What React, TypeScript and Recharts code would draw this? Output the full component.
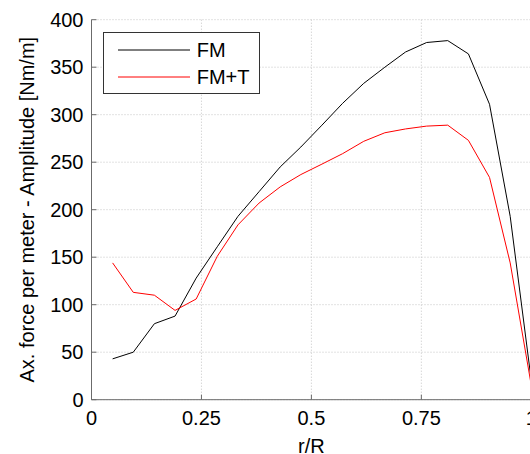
import { LineChart, Line, XAxis, YAxis, CartesianGrid, Legend } from "recharts";

// r/R stations
const R = [
  0.048, 0.095, 0.143, 0.19, 0.238, 0.286, 0.333, 0.381, 0.429, 0.476, 0.524,
  0.571, 0.619, 0.667, 0.714, 0.762, 0.81, 0.857, 0.905, 0.952, 1.0,
];
// axial force amplitude [Nm/m]
const FM = [
  43, 50, 80, 88, 128, 161, 193, 219, 245, 266, 289, 312, 333, 350, 366, 376,
  378, 364, 311, 193, 20,
];
const FM_T = [
  144, 113, 110, 94, 106, 151, 184, 207, 224, 237, 248, 259, 272, 281, 285,
  288, 289, 273, 234, 144, 15,
];

const X_TICKS = [0, 0.25, 0.5, 0.75, 1];
const Y_TICKS = [0, 50, 100, 150, 200, 250, 300, 350, 400];

const data = R.map((r, i) => ({ r, fm: FM[i], fmt: FM_T[i] }));

const FONT = '"Liberation Sans", Arial, Helvetica, sans-serif';
const AXIS = "#6b6b6b";

function LegendBox({ payload }: any) {
  return (
    <div
      style={{
        width: 157,
        height: 62,
        border: "1px solid #333",
        background: "#fff",
        boxSizing: "border-box",
        paddingTop: 4,
      }}
    >
      {(payload || []).map((p: any) => (
        <div
          key={p.value}
          style={{ display: "flex", alignItems: "center", height: 27 }}
        >
          <svg width={86} height={10} style={{ flex: "none" }}>
            <line x1={14} x2={86} y1={5} y2={5} stroke={p.color} strokeWidth={1} />
          </svg>
          <span
            style={{
              marginLeft: 7,
              fontSize: 20,
              color: "#000",
              fontFamily: FONT,
              lineHeight: "20px",
            }}
          >
            {p.value}
          </span>
        </div>
      ))}
    </div>
  );
}

export default function App() {
  // absolute box so the slightly wider chart is cropped at the right like the original
  return (
    <div
      style={{
        position: "absolute",
        left: 0,
        top: 0,
        width: 530,
        height: 454,
        overflow: "hidden",
        fontFamily: FONT,
        background: "#fff",
      }}
    >
      <LineChart
        width={548}
        height={454}
        data={data}
        margin={{ top: 19.7, right: 16.7, left: 0, bottom: 0 }}
      >
        <CartesianGrid
          stroke="#c4c4c4"
          strokeDasharray="1 2"
          horizontalValues={Y_TICKS}
          verticalValues={X_TICKS}
        />
        <XAxis
          dataKey="r"
          type="number"
          domain={[0, 1]}
          ticks={X_TICKS}
          height={54.3}
          stroke={AXIS}
          tickSize={-5}
          tickMargin={16.5}
          tick={{ fontSize: 20, fill: "#000" }}
          tickFormatter={(v) => String(v)}
          label={{
            value: "r/R",
            position: "insideBottom",
            offset: 1,
            fontSize: 20,
            fill: "#000",
          }}
        />
        <XAxis
          xAxisId="top"
          orientation="top"
          type="number"
          domain={[0, 1]}
          ticks={X_TICKS}
          height={0}
          stroke={AXIS}
          tickSize={-5}
          tick={false}
        />
        <YAxis
          type="number"
          domain={[0, 400]}
          ticks={Y_TICKS}
          width={91.5}
          stroke={AXIS}
          tickSize={-5}
          tickMargin={13}
          tick={{ fontSize: 20, fill: "#000" }}
          label={{
            value: "Ax. force per meter - Amplitude [Nm/m]",
            angle: -90,
            position: "insideLeft",
            offset: 26.5,
            fontSize: 20,
            fill: "#000",
            style: { textAnchor: "middle" },
          }}
        />
        <YAxis
          yAxisId="right"
          orientation="right"
          type="number"
          domain={[0, 400]}
          ticks={Y_TICKS}
          width={0}
          stroke={AXIS}
          tickSize={-5}
          tick={false}
        />
        <Legend
          layout="vertical"
          align="center"
          verticalAlign="middle"
          wrapperStyle={{ left: 102.7, top: 31.7, width: 157, height: 62 }}
          content={<LegendBox />}
        />
        <Line
          dataKey="fm"
          name="FM"
          stroke="#000000"
          strokeWidth={1}
          dot={false}
          isAnimationActive={false}
        />
        <Line
          dataKey="fmt"
          name="FM+T"
          stroke="#ff0000"
          strokeWidth={1}
          dot={false}
          isAnimationActive={false}
        />
      </LineChart>
    </div>
  );
}
